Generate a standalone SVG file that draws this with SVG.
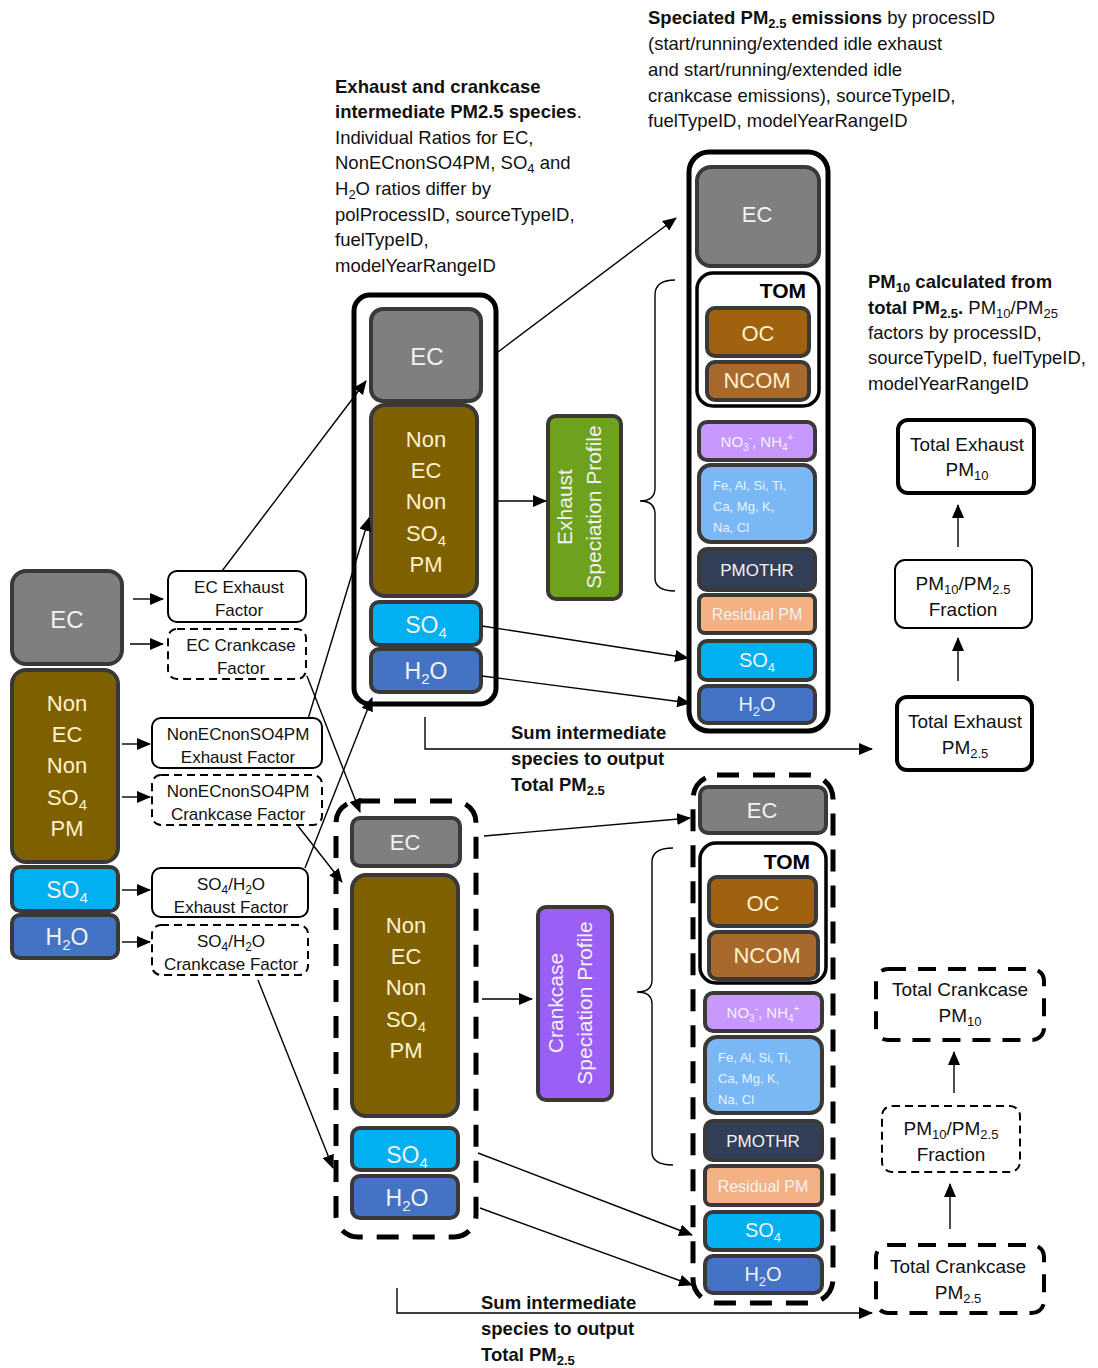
<svg xmlns="http://www.w3.org/2000/svg" width="1098" height="1368" viewBox="0 0 1098 1368">
<defs>
<marker id="ar" markerUnits="userSpaceOnUse" markerWidth="14" markerHeight="12" refX="13" refY="6" orient="auto"><path d="M0,0 L14,6 L0,12 Z" fill="#000"/></marker>
<style>
text{font-family:"Liberation Sans",Arial,sans-serif}
.sp{stroke:#3b3838;stroke-width:4}
.ec{fill:#7f7f7f}.br{fill:#7f6000}.so{fill:#00b0f0}.h2{fill:#4472c4}
.oc{fill:#a0620f}.nc{fill:#a86a2c}.no{fill:#c799ff}.fe{fill:#7ab8f5}.pm{fill:#323f58}.rs{fill:#f4b183}
.out{fill:none;stroke:#000;stroke-width:5}
.dout{fill:none;stroke:#000;stroke-width:5;stroke-dasharray:22 14}
.tom{fill:#fff;stroke:#000;stroke-width:3.5}
.fb{fill:#fff;stroke:#000;stroke-width:2}
.fbd{fill:#fff;stroke:#000;stroke-width:2;stroke-dasharray:8 5}
.tb{fill:#fff;stroke:#000;stroke-width:4}
.tbd{fill:#fff;stroke:#000;stroke-width:4;stroke-dasharray:18 12}
.w{fill:#f2f2f2;text-anchor:middle}
.y{fill:#fff2cc;text-anchor:middle;font-size:22px}
.l{font-size:17px;text-anchor:middle;fill:#111}
.t{font-size:19px;text-anchor:middle;fill:#111}
.d{font-size:18.5px;fill:#111}
.b{font-weight:bold}
.c{fill:none;stroke:#000;stroke-width:1.4}
</style>
</defs>

<g id="desc-intermediate">
<text class="d" x="335" y="93"><tspan class="b">Exhaust and crankcase</tspan></text>
<text class="d" x="335" y="118"><tspan class="b">intermediate PM2.5 species</tspan>.</text>
<text class="d" x="335" y="144">Individual Ratios for EC,</text>
<text class="d" x="335" y="169">NonECnonSO4PM, SO<tspan dy="4" font-size="13">4</tspan><tspan dy="-4"> and</tspan></text>
<text class="d" x="335" y="195">H<tspan dy="4" font-size="13">2</tspan><tspan dy="-4">O ratios differ by</tspan></text>
<text class="d" x="335" y="221">polProcessID, sourceTypeID,</text>
<text class="d" x="335" y="246">fuelTypeID,</text>
<text class="d" x="335" y="272">modelYearRangeID</text>
</g>

<g id="desc-speciated">
<text class="d" x="648" y="24"><tspan class="b">Speciated PM</tspan><tspan class="b" dy="4" font-size="13">2.5</tspan><tspan class="b" dy="-4"> emissions</tspan> by processID</text>
<text class="d" x="648" y="50">(start/running/extended idle exhaust</text>
<text class="d" x="648" y="76">and start/running/extended idle</text>
<text class="d" x="648" y="102">crankcase emissions), sourceTypeID,</text>
<text class="d" x="648" y="127">fuelTypeID, modelYearRangeID</text>
</g>

<g id="desc-pm10">
<text class="d" x="868" y="288"><tspan class="b">PM</tspan><tspan class="b" dy="4" font-size="13">10</tspan><tspan class="b" dy="-4"> calculated from</tspan></text>
<text class="d" x="868" y="314"><tspan class="b">total PM</tspan><tspan class="b" dy="4" font-size="13">2.5</tspan><tspan class="b" dy="-4">.</tspan> PM<tspan dy="4" font-size="13">10</tspan><tspan dy="-4">/PM</tspan><tspan dy="4" font-size="13">25</tspan></text>
<text class="d" x="868" y="339">factors by processID,</text>
<text class="d" x="868" y="364">sourceTypeID, fuelTypeID,</text>
<text class="d" x="868" y="390">modelYearRangeID</text>
</g>

<g id="input-pm">
<rect class="ec sp" x="12" y="571" width="110" height="93" rx="14"/>
<text class="w" x="67" y="628" font-size="24">EC</text>
<rect class="br sp" x="12" y="670" width="106" height="192" rx="14"/>
<text class="y" x="67" y="711">Non</text>
<text class="y" x="67" y="742">EC</text>
<text class="y" x="67" y="773">Non</text>
<text class="y" x="67" y="805">SO<tspan dy="5" font-size="15">4</tspan></text>
<text class="y" x="67" y="836">PM</text>
<rect class="so sp" x="12" y="867" width="106" height="44" rx="8"/>
<text class="w" x="67" y="898" font-size="23">SO<tspan dy="5" font-size="15">4</tspan></text>
<rect class="h2 sp" x="12" y="915" width="106" height="43" rx="8"/>
<text class="w" x="67" y="945" font-size="23">H<tspan dy="5" font-size="15">2</tspan><tspan dy="-5">O</tspan></text>
</g>

<g id="factor-ec-exhaust">
<rect class="fb" x="168" y="571" width="138" height="51" rx="9"/>
<text class="l" x="239" y="593">EC Exhaust</text>
<text class="l" x="239" y="616">Factor</text>
</g>
<g id="factor-ec-crankcase">
<rect class="fbd" x="168" y="629" width="138" height="50" rx="9"/>
<text class="l" x="241" y="651">EC Crankcase</text>
<text class="l" x="241" y="674">Factor</text>
</g>
<g id="factor-nonec-exhaust">
<rect class="fb" x="152" y="718" width="170" height="50" rx="9"/>
<text class="l" x="238" y="740">NonECnonSO4PM</text>
<text class="l" x="238" y="763">Exhaust Factor</text>
</g>
<g id="factor-nonec-crankcase">
<rect class="fbd" x="152" y="775" width="170" height="50" rx="9"/>
<text class="l" x="238" y="797">NonECnonSO4PM</text>
<text class="l" x="238" y="820">Crankcase Factor</text>
</g>
<g id="factor-so4-exhaust">
<rect class="fb" x="152" y="868" width="156" height="49" rx="9"/>
<text class="l" x="231" y="890">SO<tspan dy="4" font-size="12">4</tspan><tspan dy="-4">/H</tspan><tspan dy="4" font-size="12">2</tspan><tspan dy="-4">O</tspan></text>
<text class="l" x="231" y="913">Exhaust Factor</text>
</g>
<g id="factor-so4-crankcase">
<rect class="fbd" x="152" y="925" width="156" height="50" rx="9"/>
<text class="l" x="231" y="947">SO<tspan dy="4" font-size="12">4</tspan><tspan dy="-4">/H</tspan><tspan dy="4" font-size="12">2</tspan><tspan dy="-4">O</tspan></text>
<text class="l" x="231" y="970">Crankcase Factor</text>
</g>

<g id="exhaust-intermediate">
<rect class="out" x="354" y="295" width="142" height="409" rx="16"/>
<rect class="ec sp" x="371" y="309" width="110" height="92" rx="12"/>
<text class="w" x="427" y="365" font-size="24">EC</text>
<rect class="br sp" x="371" y="405" width="106" height="191" rx="14"/>
<text class="y" x="426" y="447">Non</text>
<text class="y" x="426" y="478">EC</text>
<text class="y" x="426" y="509">Non</text>
<text class="y" x="426" y="541">SO<tspan dy="5" font-size="15">4</tspan></text>
<text class="y" x="426" y="572">PM</text>
<rect class="so sp" x="371" y="602" width="110" height="43" rx="8"/>
<text class="w" x="426" y="633" font-size="23">SO<tspan dy="5" font-size="15">4</tspan></text>
<rect class="h2 sp" x="371" y="649" width="110" height="43" rx="8"/>
<text class="w" x="426" y="679" font-size="23">H<tspan dy="5" font-size="15">2</tspan><tspan dy="-5">O</tspan></text>
</g>

<g id="exhaust-profile">
<rect x="548" y="416" width="73" height="183" rx="8" fill="#6ea11e" stroke="#3b3838" stroke-width="4"/>
<text transform="translate(572,507) rotate(-90)" class="w" font-size="21" fill="#fff">Exhaust</text>
<text transform="translate(601,507) rotate(-90)" class="w" font-size="21" fill="#fff">Speciation Profile</text>
</g>

<g id="exhaust-speciated">
<rect class="out" x="689" y="152" width="139" height="579" rx="20"/>
<rect class="ec sp" x="697" y="167" width="122" height="99" rx="14"/>
<text class="w" x="757" y="222" font-size="22">EC</text>
<rect class="tom" x="697" y="273" width="122" height="133" rx="16"/>
<text x="806" y="298" font-size="21" font-weight="bold" text-anchor="end">TOM</text>
<rect class="oc sp" x="707" y="308" width="102" height="48" rx="8"/>
<text class="y" x="758" y="341">OC</text>
<rect class="nc sp" x="707" y="362" width="102" height="38" rx="8"/>
<text class="y" x="757" y="388" font-size="20">NCOM</text>
<rect class="no sp" x="699" y="422" width="116" height="38" rx="8"/>
<text class="w" x="757" y="447" font-size="15" fill="#f3e8ff">NO<tspan dy="4" font-size="10">3</tspan><tspan dy="-10" font-size="10">-</tspan><tspan dy="6">, NH</tspan><tspan dy="4" font-size="10">4</tspan><tspan dy="-10" font-size="10">+</tspan></text>
<rect class="fe sp" x="699" y="465" width="116" height="77" rx="12"/>
<text x="713" y="490" font-size="13" fill="#eaf4ff">Fe, Al, Si, Ti,</text>
<text x="713" y="511" font-size="13" fill="#eaf4ff">Ca, Mg, K,</text>
<text x="713" y="532" font-size="13" fill="#eaf4ff">Na, Cl</text>
<rect class="pm sp" x="699" y="549" width="116" height="41" rx="8"/>
<text class="w" x="757" y="576" font-size="17" fill="#e0e6f0">PMOTHR</text>
<rect class="rs sp" x="699" y="595" width="116" height="38" rx="6"/>
<text class="w" x="757" y="620" font-size="16" fill="#fde8dc">Residual PM</text>
<rect class="so sp" x="699" y="641" width="116" height="39" rx="8"/>
<text class="w" x="757" y="667" font-size="20">SO<tspan dy="5" font-size="13">4</tspan></text>
<rect class="h2 sp" x="699" y="686" width="116" height="37" rx="8"/>
<text class="w" x="757" y="711" font-size="20">H<tspan dy="5" font-size="13">2</tspan><tspan dy="-5">O</tspan></text>
</g>

<g id="total-exhaust-pm10">
<rect class="tb" x="898" y="420" width="136" height="73" rx="10"/>
<text class="t" x="967" y="451">Total Exhaust</text>
<text class="t" x="967" y="476">PM<tspan dy="4" font-size="13">10</tspan></text>
</g>
<g id="exhaust-fraction">
<rect class="fb" x="895" y="560" width="137" height="68" rx="10"/>
<text class="t" x="963" y="590">PM<tspan dy="4" font-size="13">10</tspan><tspan dy="-4">/PM</tspan><tspan dy="4" font-size="13">2.5</tspan></text>
<text class="t" x="963" y="616">Fraction</text>
</g>
<g id="total-exhaust-pm25">
<rect class="tb" x="897" y="697" width="135" height="73" rx="10"/>
<text class="t" x="965" y="728">Total Exhaust</text>
<text class="t" x="965" y="754">PM<tspan dy="4" font-size="13">2.5</tspan></text>
</g>

<g id="crankcase-intermediate">
<rect class="dout" x="336" y="801" width="140" height="436" rx="22"/>
<rect class="ec sp" x="352" y="818" width="108" height="48" rx="8"/>
<text class="w" x="405" y="850" font-size="22">EC</text>
<rect class="br sp" x="352" y="875" width="106" height="241" rx="14"/>
<text class="y" x="406" y="933">Non</text>
<text class="y" x="406" y="964">EC</text>
<text class="y" x="406" y="995">Non</text>
<text class="y" x="406" y="1027">SO<tspan dy="5" font-size="15">4</tspan></text>
<text class="y" x="406" y="1058">PM</text>
<rect class="so sp" x="352" y="1128" width="106" height="42" rx="8"/>
<text class="w" x="407" y="1163" font-size="23">SO<tspan dy="5" font-size="15">4</tspan></text>
<rect class="h2 sp" x="352" y="1176" width="106" height="42" rx="8"/>
<text class="w" x="407" y="1206" font-size="23">H<tspan dy="5" font-size="15">2</tspan><tspan dy="-5">O</tspan></text>
</g>

<g id="crankcase-profile">
<rect x="538" y="907" width="74" height="193" rx="8" fill="#9b5ff5" stroke="#3b3838" stroke-width="4"/>
<text transform="translate(563,1003) rotate(-90)" class="w" font-size="21" fill="#fff">Crankcase</text>
<text transform="translate(592,1003) rotate(-90)" class="w" font-size="21" fill="#fff">Speciation Profile</text>
</g>

<g id="crankcase-speciated">
<rect class="dout" x="693" y="775" width="140" height="528" rx="24"/>
<rect class="ec sp" x="700" y="787" width="126" height="46" rx="8"/>
<text class="w" x="762" y="818" font-size="22">EC</text>
<rect class="tom" x="700" y="843" width="126" height="140" rx="16"/>
<text x="810" y="869" font-size="21" font-weight="bold" text-anchor="end">TOM</text>
<rect class="oc sp" x="709" y="877" width="107" height="49" rx="8"/>
<text class="y" x="763" y="911">OC</text>
<rect class="nc sp" x="709" y="932" width="109" height="47" rx="8"/>
<text class="y" x="767" y="963">NCOM</text>
<rect class="no sp" x="705" y="993" width="117" height="38" rx="8"/>
<text class="w" x="763" y="1018" font-size="15" fill="#f3e8ff">NO<tspan dy="4" font-size="10">3</tspan><tspan dy="-10" font-size="10">-</tspan><tspan dy="6">, NH</tspan><tspan dy="4" font-size="10">4</tspan><tspan dy="-10" font-size="10">+</tspan></text>
<rect class="fe sp" x="705" y="1037" width="117" height="76" rx="12"/>
<text x="718" y="1062" font-size="13" fill="#eaf4ff">Fe, Al, Si, Ti,</text>
<text x="718" y="1083" font-size="13" fill="#eaf4ff">Ca, Mg, K,</text>
<text x="718" y="1104" font-size="13" fill="#eaf4ff">Na, Cl</text>
<rect class="pm sp" x="705" y="1121" width="117" height="39" rx="8"/>
<text class="w" x="763" y="1147" font-size="17" fill="#e0e6f0">PMOTHR</text>
<rect class="rs sp" x="705" y="1166" width="117" height="39" rx="6"/>
<text class="w" x="763" y="1192" font-size="16" fill="#fde8dc">Residual PM</text>
<rect class="so sp" x="705" y="1212" width="117" height="38" rx="8"/>
<text class="w" x="763" y="1237" font-size="20">SO<tspan dy="5" font-size="13">4</tspan></text>
<rect class="h2 sp" x="705" y="1256" width="117" height="37" rx="8"/>
<text class="w" x="763" y="1281" font-size="20">H<tspan dy="5" font-size="13">2</tspan><tspan dy="-5">O</tspan></text>
</g>

<g id="total-crankcase-pm10">
<rect class="tbd" x="876" y="969" width="168" height="71" rx="12"/>
<text class="t" x="960" y="996">Total Crankcase</text>
<text class="t" x="960" y="1022">PM<tspan dy="4" font-size="13">10</tspan></text>
</g>
<g id="crankcase-fraction">
<rect class="fbd" x="882" y="1106" width="138" height="66" rx="10"/>
<text class="t" x="951" y="1135">PM<tspan dy="4" font-size="13">10</tspan><tspan dy="-4">/PM</tspan><tspan dy="4" font-size="13">2.5</tspan></text>
<text class="t" x="951" y="1161">Fraction</text>
</g>
<g id="total-crankcase-pm25">
<rect class="tbd" x="876" y="1245" width="168" height="68" rx="12"/>
<text class="t" x="958" y="1273">Total Crankcase</text>
<text class="t" x="958" y="1299">PM<tspan dy="4" font-size="13">2.5</tspan></text>
</g>

<g id="sum-labels">
<text class="d b" x="511" y="739">Sum intermediate</text>
<text class="d b" x="511" y="765">species to output</text>
<text class="d b" x="511" y="791">Total PM<tspan dy="4" font-size="13">2.5</tspan></text>
<text class="d b" x="481" y="1309">Sum intermediate</text>
<text class="d b" x="481" y="1335">species to output</text>
<text class="d b" x="481" y="1361">Total PM<tspan dy="4" font-size="13">2.5</tspan></text>
</g>

<g id="connectors">
<line class="c" x1="133" y1="599" x2="163" y2="599" marker-end="url(#ar)"/>
<line class="c" x1="130" y1="644" x2="163" y2="644" marker-end="url(#ar)"/>
<line class="c" x1="122" y1="744" x2="150" y2="744" marker-end="url(#ar)"/>
<line class="c" x1="122" y1="797" x2="150" y2="797" marker-end="url(#ar)"/>
<line class="c" x1="122" y1="890" x2="150" y2="890" marker-end="url(#ar)"/>
<line class="c" x1="122" y1="942" x2="150" y2="942" marker-end="url(#ar)"/>
<line class="c" x1="222" y1="571" x2="366" y2="381" marker-end="url(#ar)"/>
<line class="c" x1="307" y1="676" x2="360" y2="812" marker-end="url(#ar)"/>
<line class="c" x1="308" y1="719" x2="369" y2="518" marker-end="url(#ar)"/>
<line class="c" x1="298" y1="826" x2="342" y2="882" marker-end="url(#ar)"/>
<line class="c" x1="305" y1="868" x2="372" y2="698" marker-end="url(#ar)"/>
<line class="c" x1="258" y1="980" x2="333" y2="1168" marker-end="url(#ar)"/>
<line class="c" x1="498" y1="352" x2="676" y2="218" marker-end="url(#ar)"/>
<line class="c" x1="498" y1="501" x2="546" y2="501" marker-end="url(#ar)"/>
<line class="c" x1="482" y1="626" x2="688" y2="658" marker-end="url(#ar)"/>
<line class="c" x1="482" y1="676" x2="690" y2="703" marker-end="url(#ar)"/>
<polyline class="c" points="425,717 425,749 872,749" marker-end="url(#ar)"/>
<line class="c" x1="958" y1="547" x2="958" y2="505" marker-end="url(#ar)"/>
<line class="c" x1="958" y1="681" x2="958" y2="638" marker-end="url(#ar)"/>
<line class="c" x1="484" y1="836" x2="690" y2="818" marker-end="url(#ar)"/>
<line class="c" x1="482" y1="999" x2="532" y2="999" marker-end="url(#ar)"/>
<line class="c" x1="478" y1="1153" x2="692" y2="1235" marker-end="url(#ar)"/>
<line class="c" x1="480" y1="1208" x2="692" y2="1285" marker-end="url(#ar)"/>
<polyline class="c" points="397,1288 397,1313 872,1313" marker-end="url(#ar)"/>
<line class="c" x1="954" y1="1093" x2="954" y2="1052" marker-end="url(#ar)"/>
<line class="c" x1="950" y1="1229" x2="950" y2="1184" marker-end="url(#ar)"/>
<path class="c" d="M675,280 Q655,280 655,295 L655,488 Q655,501 640,501 Q655,501 655,514 L655,578 Q655,591 675,591"/>
<path class="c" d="M673,848 Q652,848 652,862 L652,980 Q652,992 637,992 Q652,992 652,1004 L652,1152 Q652,1165 673,1165"/>
</g>
</svg>
